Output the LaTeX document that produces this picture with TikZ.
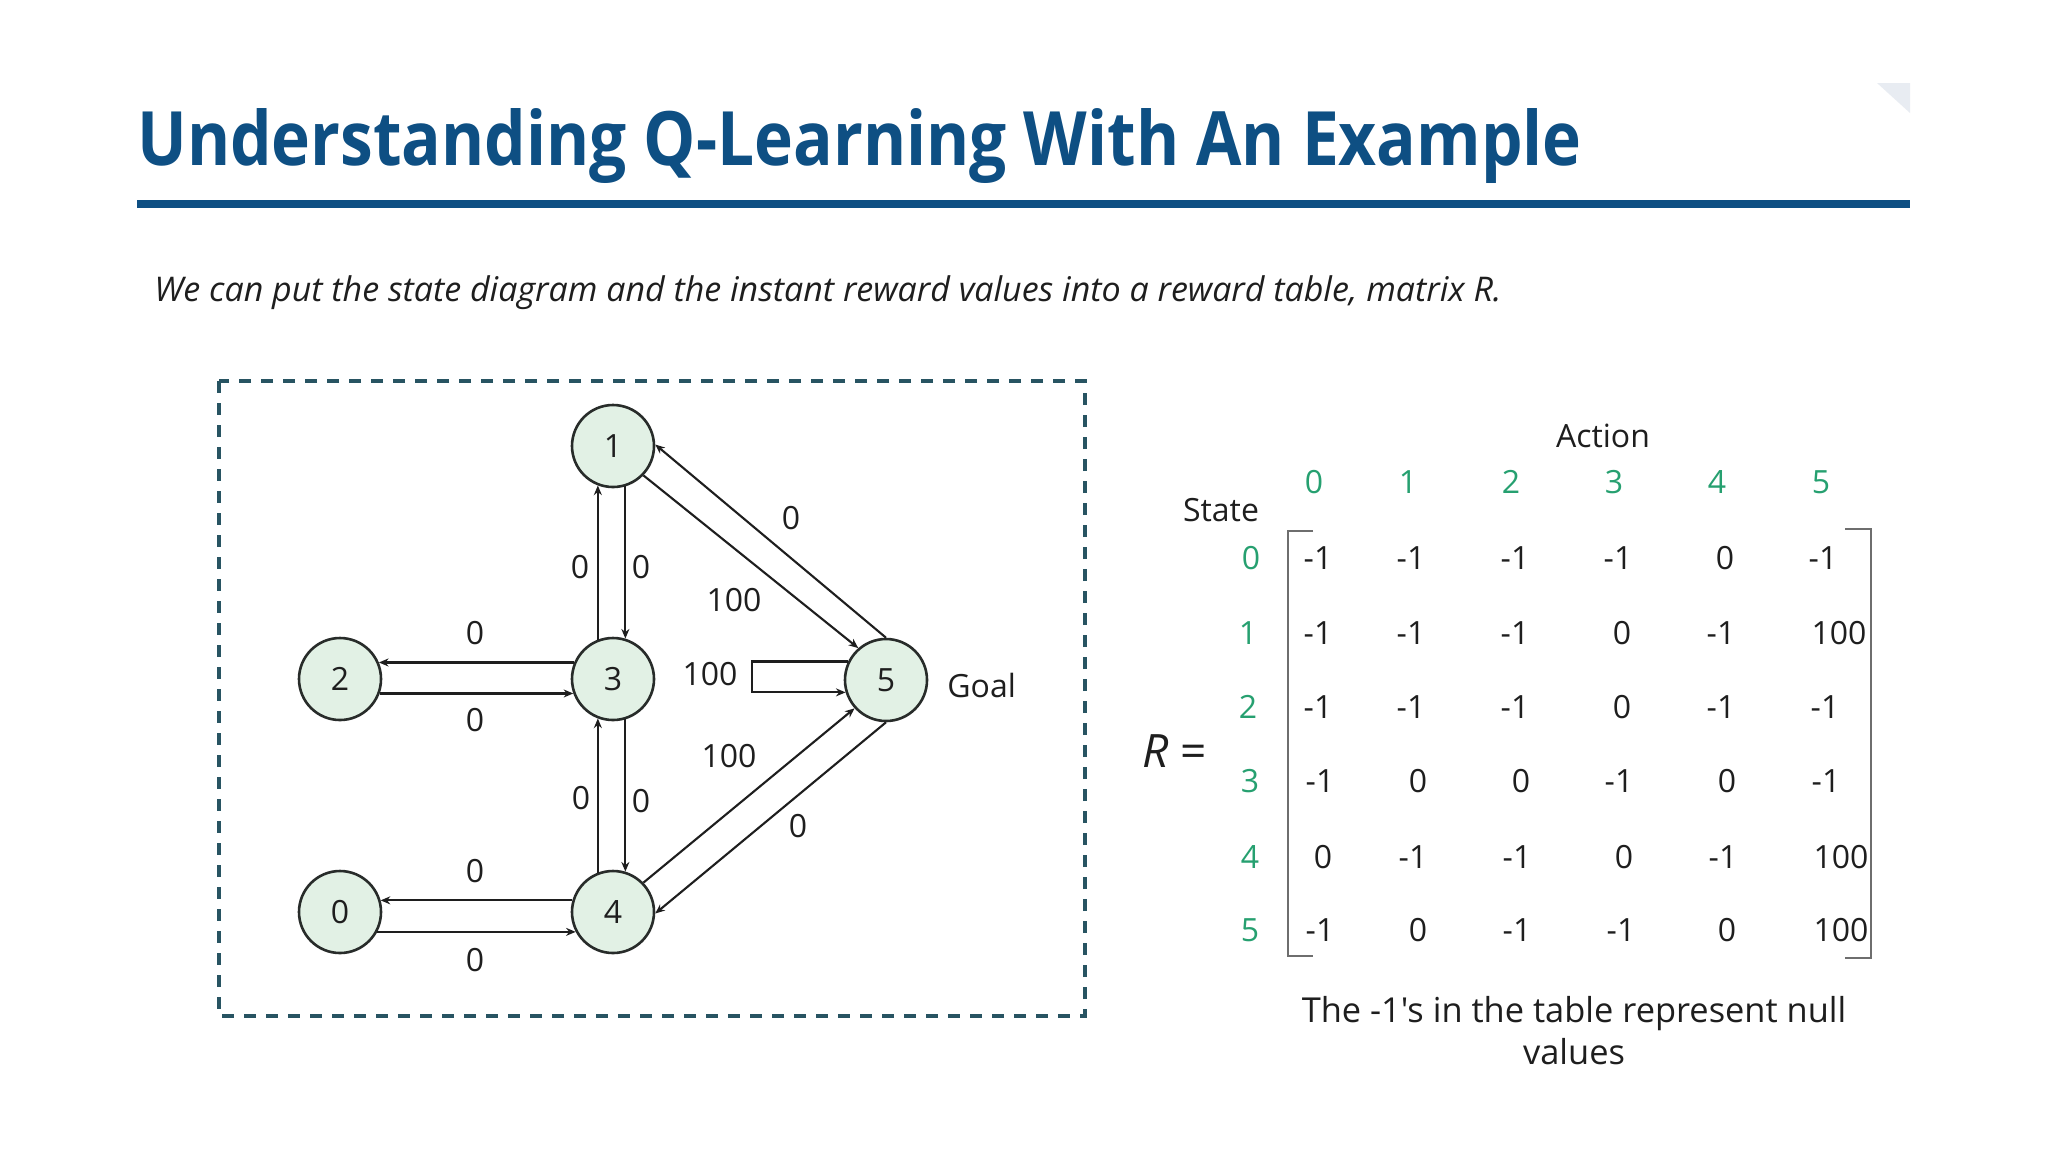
\documentclass[tikz,border=0pt]{standalone}
\usepackage{fontspec}
\setmainfont{Open Sans}[Ligatures=TeXOff]
\usetikzlibrary{arrows.meta}
\definecolor{titleblue}{RGB}{14,79,131}
\definecolor{boxteal}{RGB}{40,84,98}
\definecolor{nodefill}{RGB}{226,241,229}
\definecolor{nodeline}{RGB}{40,44,42}
\definecolor{hdrgreen}{RGB}{38,160,112}
\definecolor{txtgray}{RGB}{30,30,30}
\definecolor{brkgray}{RGB}{110,110,110}
\definecolor{cornergray}{RGB}{232,236,242}
\tikzset{
  state/.style={circle,draw=nodeline,line width=1.3pt,fill=nodefill,minimum size=41pt,inner sep=0pt,font=\fontsize{16}{18}\selectfont,text=txtgray},
  arr/.style={-{Stealth[length=4.8pt,width=4pt]},line width=1.05pt,draw=txtgray},
  lbl/.style={font=\fontsize{16}{18}\selectfont,text=txtgray,inner sep=0pt},
  ent/.style={font=\fontsize{16}{18}\selectfont,text=txtgray,inner sep=0pt},
  hdr/.style={font=\fontsize{16}{18}\selectfont,text=hdrgreen,inner sep=0pt},
}
\begin{document}
\begin{tikzpicture}[x=0.5pt,y=-0.5pt]
\useasboundingbox (0,0) rectangle (2048,1152);
\fill[white] (0,0) rectangle (2048,1152);
% corner decoration
\fill[cornergray] (1877,83) -- (1910,83) -- (1910,113) -- cycle;
% title
\node[anchor=base west,inner sep=0pt,xscale=0.877,transform shape,font=\bfseries\fontsize{37.5}{40}\selectfont,text=titleblue] (title) at (137,165) {Understanding Q-Learning With An Example};
\fill[titleblue] (137,200) rectangle (1910,208);
% subtitle
\node[anchor=base west,inner sep=0pt,font=\itshape\fontsize{17}{20}\selectfont,text=txtgray] (sub) at (154,301) {We can put the state diagram and the instant reward values into a reward table, matrix R.};
% dashed box
\draw[boxteal,line width=1.6pt,dash pattern=on 6pt off 5pt] (219,381) rectangle (1085,1016);
% states
\node[state] (n1) at (613,446) {1};
\node[state] (n2) at (340,679) {2};
\node[state] (n3) at (613,679) {3};
\node[state] (n5) at (886,680) {5};
\node[state] (n0) at (340,912) {0};
\node[state] (n4) at (613,912) {4};
% edges
\draw[arr] (n3.157) -- (n2.23);
\draw[arr] (n2.-20) -- (n3.-160);
\draw[arr] (n3.111) -- (n1.249);
\draw[arr] (n1.-73) -- (n3.73);
\draw[arr] (n4.111) -- (n3.249);
\draw[arr] (n3.-73) -- (n4.73);
\draw[arr] (n4.164) -- (n0.16);
\draw[arr] (n0.-28) -- (n4.-152);
\draw[arr] (n5.90) -- (n1.2);
\draw[arr] (n1.-44) -- (n5.131);
\draw[arr] (n4.44) -- (n5.-138);
\draw[arr] (n5.-90) -- (n4.-2);
\draw[arr] (n5.154) -- ++(-96,0) |- (n5.197);
% edge labels
\node[lbl] (l15) at (791,518) {0};
\node[lbl] (l15b) at (734,600) {100};
\node[lbl] (l31) at (580,567) {0};
\node[lbl] (l13) at (641,567) {0};
\node[lbl] (l32) at (475,633) {0};
\node[lbl] (l23) at (475,720) {0};
\node[lbl] (l55) at (710,674) {100};
\node[lbl,anchor=west] (goal) at (947,685) {Goal};
\node[lbl] (l45) at (729,756) {100};
\node[lbl] (l43) at (581,798) {0};
\node[lbl] (l34) at (641,801) {0};
\node[lbl] (l54) at (798,826) {0};
\node[lbl] (l40) at (475,871) {0};
\node[lbl] (l04) at (475,960) {0};
% matrix
\node[lbl] (action) at (1603,436) {Action};
\node[lbl] (statelbl) at (1221,510) {State};
\node[inner sep=0pt,font=\fontsize{23}{26}\selectfont,text=txtgray] (req) at (1175,751) {\textit{R} =};
\node[hdr] (c0) at (1314,482) {0};
\node[hdr] (c1) at (1408,482) {1};
\node[hdr] (c2) at (1511,482) {2};
\node[hdr] (c3) at (1614,482) {3};
\node[hdr] (c4) at (1717,482) {4};
\node[hdr] (c5) at (1821,482) {5};
\node[hdr] (r0) at (1251,558) {0};
\node[hdr] (r1) at (1248,633) {1};
\node[hdr] (r2) at (1248,707) {2};
\node[hdr] (r3) at (1250,781) {3};
\node[hdr] (r4) at (1250,857) {4};
\node[hdr] (r5) at (1250,930) {5};
\draw[brkgray,line width=0.7pt] (1313,531) -- (1288,531) -- (1288,956) -- (1313,956);
\draw[brkgray,line width=0.7pt] (1845,529) -- (1871,529) -- (1871,958) -- (1845,958);
% row 0
\node[ent] (m00) at (1318,558) {-1};
\node[ent] (m01) at (1411,558) {-1};
\node[ent] (m02) at (1515,558) {-1};
\node[ent] (m03) at (1618,558) {-1};
\node[ent] (m04) at (1725,558) {0};
\node[ent] (m05) at (1823,558) {-1};
% row 1
\node[ent] (m10) at (1318,633) {-1};
\node[ent] (m11) at (1411,633) {-1};
\node[ent] (m12) at (1515,633) {-1};
\node[ent] (m13) at (1622,633) {0};
\node[ent] (m14) at (1721,633) {-1};
\node[ent] (m15) at (1839,633) {100};
% row 2
\node[ent] (m20) at (1318,707) {-1};
\node[ent] (m21) at (1411,707) {-1};
\node[ent] (m22) at (1515,707) {-1};
\node[ent] (m23) at (1622,707) {0};
\node[ent] (m24) at (1721,707) {-1};
\node[ent] (m25) at (1825,707) {-1};
% row 3
\node[ent] (m30) at (1320,781) {-1};
\node[ent] (m31) at (1418,781) {0};
\node[ent] (m32) at (1521,781) {0};
\node[ent] (m33) at (1619,781) {-1};
\node[ent] (m34) at (1727,781) {0};
\node[ent] (m35) at (1826,781) {-1};
% row 4
\node[ent] (m40) at (1323,857) {0};
\node[ent] (m41) at (1413,857) {-1};
\node[ent] (m42) at (1517,857) {-1};
\node[ent] (m43) at (1624,857) {0};
\node[ent] (m44) at (1723,857) {-1};
\node[ent] (m45) at (1841,857) {100};
% row 5
\node[ent] (m50) at (1320,930) {-1};
\node[ent] (m51) at (1418,930) {0};
\node[ent] (m52) at (1517,930) {-1};
\node[ent] (m53) at (1621,930) {-1};
\node[ent] (m54) at (1727,930) {0};
\node[ent] (m55) at (1841,930) {100};
% note
\node[lbl,align=center,font=\fontsize{17.2}{21}\selectfont] (note) at (1574,1031) {The -1's in the table represent null\\values};
\end{tikzpicture}
\end{document}
